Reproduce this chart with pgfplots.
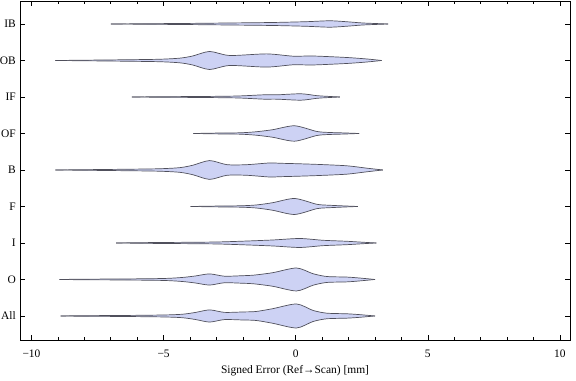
\documentclass[border=0pt]{standalone}
\usepackage{fontspec}
\setmainfont{Liberation Serif}
\usepackage{pgfplots}
\pgfplotsset{compat=1.18}
\usepgfplotslibrary{fillbetween}
\usepackage{pgfplotstable}

\definecolor{vfill}{RGB}{205,210,244}
\definecolor{vline}{RGB}{80,80,92}

\pgfplotstableread{
x h
-8.90 0
-8.00 0.008
-6.50 0.014
-5.00 0.027
-4.30 0.047
-3.80 0.096
-3.26 0.167
-2.70 0.099
-2.00 0.110
-1.50 0.123
-0.87 0.200
0.03 0.329
0.65 0.153
1.17 0.077
1.93 0.060
2.40 0.038
3.00 0
}\tAll
\pgfplotstableread{
x h
-8.94 0
-8.00 0.008
-6.50 0.014
-5.00 0.027
-4.30 0.055
-3.80 0.096
-3.26 0.153
-2.70 0.090
-2.00 0.104
-1.60 0.118
-0.87 0.186
0.03 0.315
0.65 0.159
1.17 0.082
1.93 0.066
2.40 0.041
3.00 0
}\tO
\pgfplotstableread{
x h
-6.80 0
-5.50 0.011
-4.00 0.019
-3.00 0.027
-2.10 0.047
-0.87 0.082
0.15 0.123
1.03 0.074
1.93 0.047
2.50 0.022
3.05 0
}\tI
\pgfplotstableread{
x h
-3.98 0
-3.00 0.011
-2.10 0.019
-1.50 0.041
-0.87 0.104
-0.04 0.219
0.80 0.060
1.30 0.033
1.80 0.016
2.35 0
}\tF
\pgfplotstableread{
x h
-9.10 0
-8.00 0.008
-6.55 0.019
-5.20 0.033
-4.40 0.063
-3.90 0.129
-3.26 0.258
-2.60 0.145
-1.86 0.145
-1.00 0.192
-0.60 0.184
0.00 0.173
0.90 0.151
1.93 0.115
2.70 0.049
3.30 0
}\tB
\pgfplotstableread{
x h
-3.87 0
-3.00 0.011
-2.10 0.019
-1.50 0.047
-0.87 0.104
-0.04 0.211
0.80 0.055
1.30 0.027
1.80 0.016
2.40 0
}\tOF
\pgfplotstableread{
x h
-6.20 0
-5.00 0.008
-3.50 0.014
-2.30 0.025
-1.74 0.041
-1.20 0.060
-0.70 0.060
0.20 0.088
0.80 0.036
1.17 0.019
1.67 0
}\tIF
\pgfplotstableread{
x h
-9.10 0
-8.00 0.008
-6.55 0.019
-5.20 0.033
-4.40 0.063
-3.90 0.123
-3.26 0.247
-2.50 0.137
-1.10 0.181
-0.10 0.118
0.65 0.123
1.93 0.082
2.70 0.041
3.25 0
}\tOB
\pgfplotstableread{
x h
-7.00 0
-5.50 0.008
-4.00 0.016
-2.60 0.027
-0.90 0.041
0.40 0.063
1.30 0.088
2.05 0.055
2.55 0.027
3.50 0
}\tIB

\newcommand{\violin}[2]{%
  \addplot[vline, line width=0.7bp, smooth, tension=0.45, name path=u#2] table[x=x, y expr=#2+\thisrow{h}] {#1};
  \addplot[vline, line width=0.7bp, smooth, tension=0.45, name path=l#2] table[x=x, y expr=#2-\thisrow{h}] {#1};
  \addplot[vfill, draw=none] fill between[of=u#2 and l#2];
}

\begin{document}
\begin{tikzpicture}
\begin{axis}[
  scale only axis,
  width=550bp, height=339bp,
  xmin=-10.435, xmax=10.38,
  ymin=0.342, ymax=9.63,
  xtick={-10,-5,0,5,10},
  xticklabels={−10,−5,0,5,10},
  minor x tick num=4,
  ytick={1,2,3,4,5,6,7,8,9},
  yticklabels={All,O,I,F,B,OF,IF,OB,IB},
  tick align=inside,
  major tick length=5bp,
  minor tick length=3bp,
  tick style={black, line width=0.6bp},
  axis line style={black, line width=0.8bp},
  ticklabel style={font=\fontsize{11.5}{14}\selectfont},
  xticklabel style={yshift=-6bp},
  yticklabel style={inner xsep=0pt, xshift=-4bp},
  xlabel={Signed Error (Ref→Scan) [mm]},
  xlabel style={font=\fontsize{11.5}{14}\selectfont, yshift=-1bp},
]
\violin{\tAll}{1}
\violin{\tO}{2}
\violin{\tI}{3}
\violin{\tF}{4}
\violin{\tB}{5}
\violin{\tOF}{6}
\violin{\tIF}{7}
\violin{\tOB}{8}
\violin{\tIB}{9}
\end{axis}
\pgfresetboundingbox
\path ([xshift=-20bp,yshift=-41bp]current axis.south west) rectangle ([xshift=6bp,yshift=1bp]current axis.north east);
\end{tikzpicture}
\end{document}
